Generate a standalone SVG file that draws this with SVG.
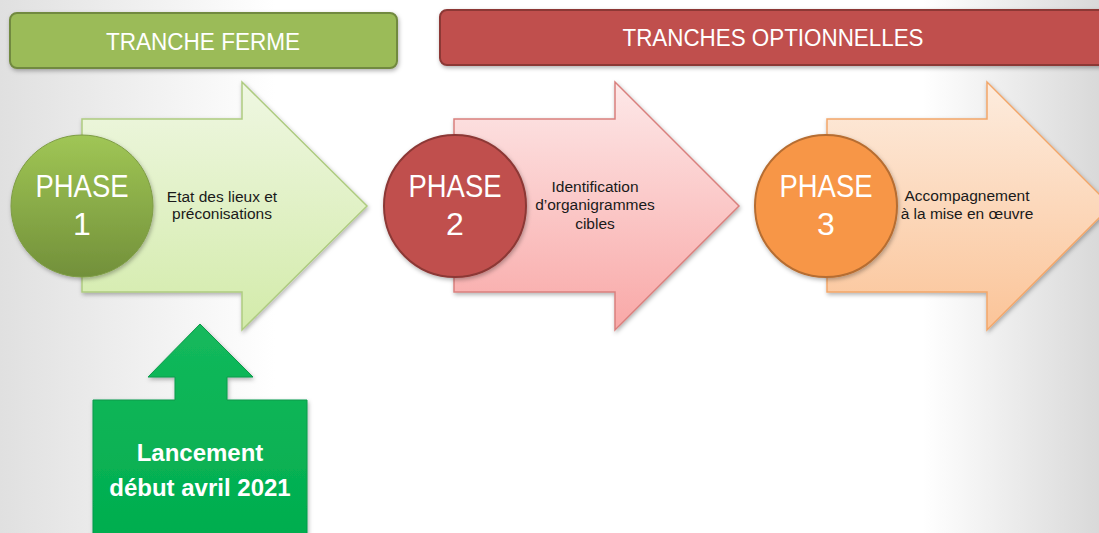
<svg xmlns="http://www.w3.org/2000/svg" width="1099" height="533" viewBox="0 0 1099 533">
<defs>
<linearGradient id="bg" x1="0" y1="0" x2="1" y2="0">
<stop offset="0" stop-color="#E0E0E0"/><stop offset="0.25" stop-color="#FFFFFF"/><stop offset="0.84" stop-color="#FFFFFF"/><stop offset="1" stop-color="#D9D9D9"/>
</linearGradient>
<linearGradient id="g1" x1="0" y1="0" x2="0" y2="1"><stop offset="0" stop-color="#EFF7E2"/><stop offset="1" stop-color="#D3EBAA"/></linearGradient>
<linearGradient id="g2" x1="0" y1="0" x2="0" y2="1"><stop offset="0" stop-color="#FDE8E8"/><stop offset="1" stop-color="#F9A8A7"/></linearGradient>
<linearGradient id="g3" x1="0" y1="0" x2="0" y2="1"><stop offset="0" stop-color="#FDECDE"/><stop offset="1" stop-color="#FBC498"/></linearGradient>
<linearGradient id="c1" x1="0" y1="0" x2="0" y2="1"><stop offset="0" stop-color="#A0C655"/><stop offset="1" stop-color="#72903A"/></linearGradient>
<linearGradient id="gl" x1="0" y1="0" x2="0" y2="1"><stop offset="0" stop-color="#14B95C"/><stop offset="1" stop-color="#00AD4E"/></linearGradient>
<filter id="sh" x="-20%" y="-20%" width="140%" height="140%"><feDropShadow dx="1" dy="2" stdDeviation="2" flood-color="#000" flood-opacity="0.3"/></filter>
<style>
.hdr{font-family:"Liberation Sans",Arial,sans-serif;font-size:23px;fill:#FFFFFF;text-anchor:middle}
.ph{font-family:"Liberation Sans",Arial,sans-serif;font-size:32px;fill:#FFFFFF;text-anchor:middle}
.desc{font-family:"Liberation Sans",Arial,sans-serif;font-size:15.5px;fill:#1A1A1A;text-anchor:middle}
.launch{font-family:"Liberation Sans",Arial,sans-serif;font-size:24px;font-weight:bold;fill:#FFFFFF;text-anchor:middle}
</style>
</defs>
<rect x="0" y="0" width="1099" height="533" fill="url(#bg)"/>
<g id="connectors"/>
<g id="tranche-ferme">
<rect x="10" y="13" width="387" height="55" rx="7" fill="#9BBB59" stroke="#71893F" stroke-width="2" filter="url(#sh)"/>
<text class="hdr" x="203" y="50" textLength="194" lengthAdjust="spacingAndGlyphs">TRANCHE FERME</text>
</g>
<g id="tranches-optionnelles">
<rect x="440" y="10" width="700" height="55" rx="7" fill="#C0504D" stroke="#8C3836" stroke-width="2" filter="url(#sh)"/>
<text class="hdr" x="773" y="46" textLength="301" lengthAdjust="spacingAndGlyphs">TRANCHES OPTIONNELLES</text>
</g>
<g id="phase1">
<path d="M82,119 H242 V82 L367,206 L242,330 V292 H82 Z" fill="url(#g1)" stroke="#AECB80" stroke-width="1.5" filter="url(#sh)"/>
<circle cx="82" cy="206" r="71" fill="url(#c1)" stroke="#7E9C45" stroke-width="1" filter="url(#sh)"/>
<text class="ph" x="82" y="197" textLength="93" lengthAdjust="spacingAndGlyphs">PHASE</text>
<text class="ph" x="82" y="235">1</text>
<text class="desc" x="222" y="202">Etat des lieux et</text>
<text class="desc" x="222" y="219">préconisations</text>
</g>
<g id="phase2">
<path d="M454,119 H615 V82 L739,206 L615,330 V292 H454 Z" fill="url(#g2)" stroke="#D9807E" stroke-width="1.5" filter="url(#sh)"/>
<circle cx="455" cy="206" r="71" fill="#C0504D" stroke="#8C3836" stroke-width="2" filter="url(#sh)"/>
<text class="ph" x="455" y="197" textLength="93" lengthAdjust="spacingAndGlyphs">PHASE</text>
<text class="ph" x="455" y="235">2</text>
<text class="desc" x="595" y="192">Identification</text>
<text class="desc" x="595" y="210">d’organigrammes</text>
<text class="desc" x="595" y="229">cibles</text>
</g>
<g id="phase3">
<path d="M827,119 H987 V82 L1111,206 L987,330 V292 H827 Z" fill="url(#g3)" stroke="#F2A669" stroke-width="1.5" filter="url(#sh)"/>
<circle cx="826" cy="206" r="71" fill="#F79646" stroke="#B66D31" stroke-width="2" filter="url(#sh)"/>
<text class="ph" x="826" y="197" textLength="93" lengthAdjust="spacingAndGlyphs">PHASE</text>
<text class="ph" x="826" y="235">3</text>
<text class="desc" x="967" y="201">Accompagnement</text>
<text class="desc" x="967" y="219">à la mise en œuvre</text>
</g>
<g id="lancement">
<path d="M200,324 L253,377 H227 V400 H307 V545 H93 V400 H175 V377 H148 Z" fill="url(#gl)" stroke="#0B9A4A" stroke-width="1" filter="url(#sh)"/>
<text class="launch" x="200" y="461">Lancement</text>
<text class="launch" x="200" y="496">début avril 2021</text>
</g>
</svg>
